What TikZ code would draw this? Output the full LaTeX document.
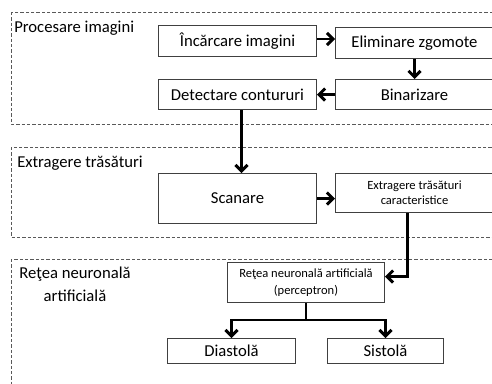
\documentclass[tikz,border=0pt]{standalone}
\usepackage{fontspec}
\setmainfont{Carlito}
\usetikzlibrary{arrows.meta}

\begin{document}
\begin{tikzpicture}[x=0.75pt,y=0.75pt,yscale=-1,xscale=1,
	pas/.style={draw=black!75, line width=0.75pt, inner sep=0pt, anchor=north west, align=center, font=\fontsize{12.5}{15}\selectfont},
	mic/.style={pas, font=\fontsize{9.4}{13}\selectfont},
	sageata/.style={line width=2.2pt, -{Straight Barb[length=4.5pt,width=9pt]}},
	cadru/.style={draw=black!65, line width=0.6pt, dash pattern=on 2.4pt off 1.6pt},
	eticheta/.style={inner sep=0pt, align=center, font=\fontsize{12.5}{17}\selectfont}]
	\useasboundingbox (0,0) rectangle (492,383);
	\clip (0,0) rectangle (492,383);
	% cadrele punctate
	\draw [cadru] (11,12) rectangle (500,124);
	\draw [cadru] (11,147) rectangle (500,237);
	\draw [cadru] (11,259) rectangle (500,400);
	\node [eticheta, anchor=north west] (etproc) at (14,21) {Procesare imagini};
	\node [eticheta, anchor=north west] (etextr) at (17,156) {Extragere trăsături};
	\node [eticheta, anchor=north] (etretea) at (75,267) {Reţea neuronală\\artificială};
	% procesare
	\node [pas, minimum width=118.5pt, minimum height=23.25pt] (incarcare) at (158,25) {Încărcare imagini};
	\node [pas, minimum width=118.5pt, minimum height=23.25pt] (eliminare) at (335,27) {Eliminare zgomote};
	\node [pas, minimum width=118.5pt, minimum height=22.5pt] (binarizare) at (335,79) {Binarizare};
	\node [pas, minimum width=118.5pt, minimum height=22.5pt] (detectare) at (158,79) {Detectare contururi};
	% extragere
	\node [pas, minimum width=118.5pt, minimum height=37.5pt] (scanare) at (158,173) {Scanare};
	\node [mic, minimum width=118.5pt, minimum height=29.25pt, font=\fontsize{9.4}{11.3}\selectfont] (caract) at (335,173) {Extragere trăsături\\caracteristice};
	% retea
	\node [mic, minimum width=117.75pt, minimum height=30pt] (retea) at (227,262) {Reţea neuronală artificială\\(perceptron)};
	\node [pas, minimum width=96pt, minimum height=18.75pt] (diastola) at (167,338) {Diastolă};
	\node [pas, minimum width=87pt, minimum height=18.75pt] (sistola) at (327,338) {Sistolă};
	% sageti
	\draw [sageata] ([yshift=-1.5pt]incarcare.east) -- ([yshift=-1.5pt]incarcare.east -| eliminare.west);
	\draw [sageata] (eliminare.south) -- (binarizare.north);
	\draw [sageata] (binarizare.west) -- (detectare.east);
	\draw [sageata] ([xshift=3pt]detectare.south) -- ([xshift=3pt]scanare.north);
	\draw [sageata] (scanare.east) -- (scanare.east -| caract.west);
	\draw [sageata] ([xshift=-5pt]caract.south) |- ([yshift=-4.5pt]retea.east);
	\draw [line width=2.2pt] (retea.south) -- ++(0,17) coordinate (ramura);
	\draw [sageata] (ramura) -| (diastola.north);
	\draw [sageata] (ramura) -| (sistola.north);
\end{tikzpicture}
\end{document}
